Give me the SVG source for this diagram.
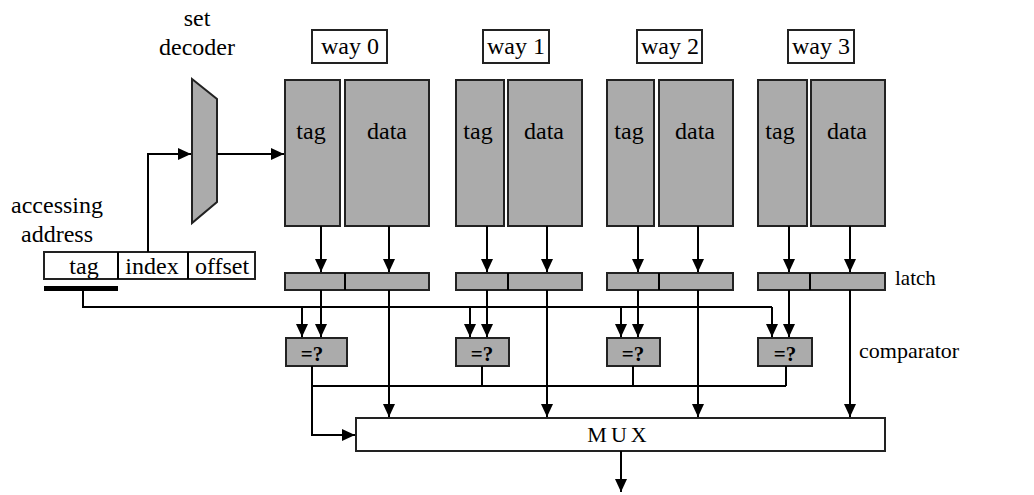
<svg xmlns="http://www.w3.org/2000/svg" width="1034" height="495" viewBox="0 0 1034 495">
<defs>
<marker id="ahs" viewBox="0 0 13 12" refX="13" refY="6" markerWidth="13" markerHeight="12" markerUnits="userSpaceOnUse" orient="auto">
<path d="M0,0 L13,6 L0,12 z" fill="#000"/>
</marker>
</defs>
<style>
text{font-family:"Liberation Serif","Times New Roman",serif;fill:#000}
.t{font-size:24px}
.c{text-anchor:middle}
.eq{font-size:21px;font-weight:bold;text-anchor:middle}
.g{fill:#ababab;stroke:#222;stroke-width:2}
.w{fill:#fff;stroke:#222;stroke-width:2}
.ln{fill:none;stroke:#000;stroke-width:2}
.ar{fill:none;stroke:#000;stroke-width:2;marker-end:url(#ahs)}
</style>
<rect width="1034" height="495" fill="#fff"/>

<g id="labels">
<text class="t c" x="197" y="26">set</text>
<text class="t c" x="197" y="55">decoder</text>
<text class="t c" x="57" y="213">accessing</text>
<text class="t c" x="57" y="242">address</text>
<text x="895" y="285" font-size="21">latch</text>
<text x="859" y="358" font-size="22">comparator</text>
</g>

<g id="address">
<rect class="w" x="44" y="252" width="211" height="27"/>
<line class="ln" x1="118" y1="252" x2="118" y2="279"/>
<line class="ln" x1="188" y1="252" x2="188" y2="279"/>
<text class="t c" x="84" y="274">tag</text>
<text class="t c" x="152" y="274">index</text>
<text class="t c" x="222" y="274">offset</text>
<rect x="44" y="286" width="74" height="5" fill="#000"/>
</g>

<g id="decoder">
<polygon class="g" points="192,79 217,99 217,202 192,223"/>
</g>

<g id="way0">
<rect class="w" x="312" y="30" width="75" height="33"/>
<text class="t c" x="350" y="54">way 0</text>
<rect class="g" x="285" y="80" width="55" height="146"/>
<rect class="g" x="345" y="80" width="84" height="146"/>
<text class="t c" x="311" y="139">tag</text>
<text class="t c" x="387" y="139">data</text>
</g>
<g id="way1">
<rect class="w" x="483" y="30" width="66" height="33"/>
<text class="t c" x="516" y="54">way 1</text>
<rect class="g" x="456" y="80" width="48" height="146"/>
<rect class="g" x="508" y="80" width="74" height="146"/>
<text class="t c" x="478" y="139">tag</text>
<text class="t c" x="544" y="139">data</text>
</g>
<g id="way2">
<rect class="w" x="637" y="30" width="65" height="33"/>
<text class="t c" x="670" y="54">way 2</text>
<rect class="g" x="607" y="80" width="47" height="146"/>
<rect class="g" x="659" y="80" width="74" height="146"/>
<text class="t c" x="629" y="139">tag</text>
<text class="t c" x="695" y="139">data</text>
</g>
<g id="way3">
<rect class="w" x="788" y="30" width="66" height="33"/>
<text class="t c" x="821" y="54">way 3</text>
<rect class="g" x="758" y="80" width="49" height="146"/>
<rect class="g" x="811" y="80" width="74" height="146"/>
<text class="t c" x="780" y="139">tag</text>
<text class="t c" x="847" y="139">data</text>
</g>

<g id="latches">
<rect class="g" x="285" y="273" width="144" height="17"/>
<line class="ln" x1="345" y1="273" x2="345" y2="290"/>
<rect class="g" x="456" y="273" width="126" height="17"/>
<line class="ln" x1="508" y1="273" x2="508" y2="290"/>
<rect class="g" x="607" y="273" width="126" height="17"/>
<line class="ln" x1="659" y1="273" x2="659" y2="290"/>
<rect class="g" x="758" y="273" width="127" height="17"/>
<line class="ln" x1="810" y1="273" x2="810" y2="290"/>
</g>

<g id="comparators">
<rect class="g" x="286" y="338" width="61" height="28"/>
<text class="eq" x="312" y="361">=?</text>
<rect class="g" x="456" y="338" width="53" height="28"/>
<text class="eq" x="482" y="361">=?</text>
<rect class="g" x="607" y="338" width="53" height="28"/>
<text class="eq" x="633" y="361">=?</text>
<rect class="g" x="758" y="338" width="54" height="28"/>
<text class="eq" x="785" y="361">=?</text>
</g>

<g id="mux">
<rect class="w" x="356" y="418" width="529" height="33"/>
<text class="c" x="619" y="442" font-size="22" letter-spacing="4">MUX</text>
</g>

<g id="connectors">
<polyline class="ar" points="148,252 148,154 191,154"/>
<polyline class="ar" points="217,154 284,154"/>
<line class="ar" x1="321" y1="226" x2="321" y2="272"/>
<line class="ar" x1="389" y1="226" x2="389" y2="272"/>
<line class="ar" x1="487" y1="226" x2="487" y2="272"/>
<line class="ar" x1="547" y1="226" x2="547" y2="272"/>
<line class="ar" x1="638" y1="226" x2="638" y2="272"/>
<line class="ar" x1="698" y1="226" x2="698" y2="272"/>
<line class="ar" x1="789" y1="226" x2="789" y2="272"/>
<line class="ar" x1="850" y1="226" x2="850" y2="272"/>
<polyline class="ln" points="83,291 83,307 772,307"/>
<line class="ar" x1="302" y1="307" x2="302" y2="337"/>
<line class="ar" x1="470" y1="307" x2="470" y2="337"/>
<line class="ar" x1="621" y1="307" x2="621" y2="337"/>
<line class="ar" x1="772" y1="307" x2="772" y2="337"/>
<line class="ar" x1="321" y1="290" x2="321" y2="337"/>
<line class="ar" x1="487" y1="290" x2="487" y2="337"/>
<line class="ar" x1="638" y1="290" x2="638" y2="337"/>
<line class="ar" x1="789" y1="290" x2="789" y2="337"/>
<polyline class="ar" points="312,366 312,435 355,435"/>
<line class="ln" x1="312" y1="386" x2="786" y2="386"/>
<line class="ln" x1="482" y1="366" x2="482" y2="386"/>
<line class="ln" x1="633" y1="366" x2="633" y2="386"/>
<line class="ln" x1="786" y1="366" x2="786" y2="386"/>
<line class="ar" x1="389" y1="290" x2="389" y2="417"/>
<line class="ar" x1="547" y1="290" x2="547" y2="417"/>
<line class="ar" x1="698" y1="290" x2="698" y2="417"/>
<line class="ar" x1="850" y1="290" x2="850" y2="417"/>
<line class="ar" x1="621" y1="451" x2="621" y2="492"/>
</g>
</svg>
